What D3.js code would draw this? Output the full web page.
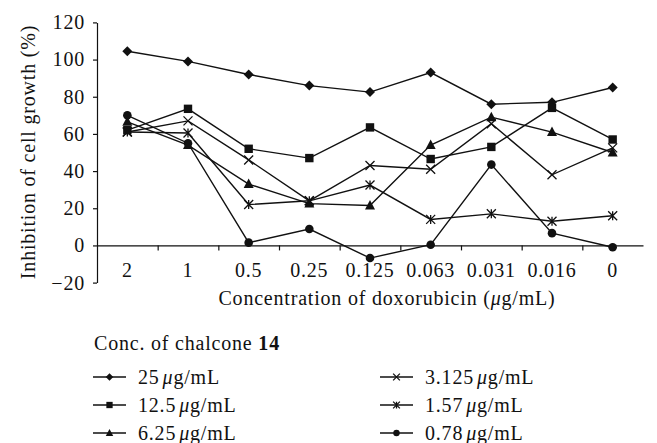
<!DOCTYPE html>
<html>
<head>
<meta charset="utf-8">
<script src="https://cdn.jsdelivr.net/npm/d3@7"></script>
<style>
  body { margin: 0; background: #fff; }
  text { font-family: "Liberation Serif", "DejaVu Serif", serif; fill: #111; letter-spacing: 0.8px; }
</style>
</head>
<body>
<div class="chart"></div>
<script>
// concentrations of doxorubicin (x categories)
const categories = ["2", "1", "0.5", "0.25", "0.125", "0.063", "0.031", "0.016", "0"];

// inhibition (%) per chalcone 14 concentration
const s25 = [104.5, 99, 92, 86, 82.5, 93, 76, 77, 85];
const s12_5 = [62, 73.5, 52, 47, 63.5, 46.5, 53, 74, 57];
const s6_25 = [66.5, 54, 33, 22.5, 21.5, 54, 69, 61, 50];
const s3_125 = [61, 67, 46, 24, 43, 41, 65.5, 38, 52.5];
const s1_57 = [61, 60.5, 22, 24, 32.5, 14, 17, 13, 16];
const s0_78 = [70, 55, 1.5, 8.8, -6.8, 0.4, 43.5, 6.6, -1];

const seriesNames = ["25", "12.5", "6.25", "3.125", "1.57", "0.78"];
const seriesValues = [s25, s12_5, s6_25, s3_125, s1_57, s0_78];
const markers = ["diamond", "square", "triangle", "cross", "asterisk", "circle"];

const yTicks = [-20, 0, 20, 40, 60, 80, 100, 120];

const width = 657, height = 443;
const mLeft = 97, mRight = 643, mTop = 22.4, mBottom = 282.6;
const fs = 20;

const svg = d3.select(".chart").append("svg")
  .attr("width", width).attr("height", height)
  .attr("viewBox", [0, 0, width, height]);

const x = d3.scaleBand().domain(categories).range([mLeft, mRight]);
const xi = d3.scaleLinear().domain([0, categories.length]).range([mLeft, mRight]);
const y = d3.scaleLinear().domain([-20, 120]).range([mBottom, mTop]);

// y axis
const gy = svg.append("g").attr("transform", `translate(${mLeft},0)`)
  .call(d3.axisLeft(y).tickValues(yTicks).tickSize(4).tickSizeOuter(0)
    .tickFormat(d => d < 0 ? "\u221220" : d));
gy.select(".domain").attr("stroke", "#111").attr("stroke-width", 1.2);
gy.selectAll(".tick line").attr("stroke", "#111").attr("stroke-width", 1.2);
gy.selectAll(".tick text").attr("font-size", fs).attr("x", -12).attr("fill", "#111");

// x axis along zero with ticks between categories
const gx = svg.append("g").attr("transform", `translate(0,${y(0)})`)
  .call(d3.axisBottom(xi).tickValues(d3.range(1, categories.length)).tickSize(5).tickSizeOuter(0).tickFormat(""));
gx.select(".domain").attr("stroke", "#111").attr("stroke-width", 1.2);
gx.selectAll(".tick line").attr("stroke", "#111").attr("stroke-width", 1.2);

svg.append("g").selectAll("text").data(categories).join("text")
  .attr("x", d => x(d) + x.bandwidth() / 2)
  .attr("y", 277)
  .attr("text-anchor", "middle")
  .attr("font-size", fs)
  .text(d => d);

// axis titles
svg.append("text")
  .attr("transform", `translate(35,152) rotate(-90)`)
  .attr("text-anchor", "middle")
  .attr("font-size", fs)
  .text("Inhibition of cell growth (%)");

const xt = svg.append("text")
  .attr("x", 387).attr("y", 305)
  .attr("text-anchor", "middle")
  .attr("font-size", fs);
xt.append("tspan").text("Concentration of doxorubicin (");
xt.append("tspan").attr("font-style", "italic").text("μ");
xt.append("tspan").text("g/mL)");

function drawMarker(g, type, cx, cy, k) {
  const s = k || 1;
  if (type === "diamond") {
    g.append("path").attr("d", `M${cx},${cy - 5 * s}L${cx + 5 * s},${cy}L${cx},${cy + 5 * s}L${cx - 5 * s},${cy}Z`).attr("fill", "#111");
  } else if (type === "square") {
    g.append("rect").attr("x", cx - 4.2 * s).attr("y", cy - 4.2 * s).attr("width", 8.4 * s).attr("height", 8.4 * s).attr("fill", "#111");
  } else if (type === "triangle") {
    g.append("path").attr("d", `M${cx},${cy - 5.5 * s}L${cx + 5 * s},${cy + 4 * s}L${cx - 5 * s},${cy + 4 * s}Z`).attr("fill", "#111");
  } else if (type === "cross") {
    const r = 4.5 * s;
    g.append("path").attr("d", `M${cx - r},${cy - r}L${cx + r},${cy + r}M${cx - r},${cy + r}L${cx + r},${cy - r}`)
      .attr("stroke", "#111").attr("stroke-width", 1.3);
  } else if (type === "asterisk") {
    const r = 4.5 * s;
    g.append("path").attr("d", `M${cx - r},${cy - r}L${cx + r},${cy + r}M${cx - r},${cy + r}L${cx + r},${cy - r}M${cx},${cy - r}L${cx},${cy + r}`)
      .attr("stroke", "#111").attr("stroke-width", 1.3);
  } else if (type === "circle") {
    g.append("circle").attr("cx", cx).attr("cy", cy).attr("r", 4.3 * s).attr("fill", "#111");
  }
}

const line = d3.line()
  .x((d, i) => x(categories[i]) + x.bandwidth() / 2)
  .y(d => y(d));

seriesValues.forEach((vals, k) => {
  const g = svg.append("g");
  g.append("path").datum(vals).attr("d", line)
    .attr("fill", "none").attr("stroke", "#111").attr("stroke-width", 1.4);
  vals.forEach((v, i) => drawMarker(g, markers[k], x(categories[i]) + x.bandwidth() / 2, y(v)));
});

// legend
const lt = svg.append("text").attr("x", 94).attr("y", 350).attr("font-size", fs);
lt.append("tspan").text("Conc. of chalcone ");
lt.append("tspan").attr("font-weight", "bold").text("14");

seriesNames.forEach((name, k) => {
  const col = Math.floor(k / 3), row = k % 3;
  const lx = col === 0 ? 93 : 380;
  const ly = 377 + row * 28;
  const g = svg.append("g");
  g.append("line").attr("x1", lx).attr("x2", lx + 33).attr("y1", ly).attr("y2", ly)
    .attr("stroke", "#111").attr("stroke-width", 1.4);
  drawMarker(g, markers[k], lx + 16.5, ly, 0.75);
  const t = g.append("text").attr("x", lx + 45).attr("y", ly + 7).attr("font-size", fs);
  t.append("tspan").text(name);
  t.append("tspan").attr("dx", 3).attr("font-style", "italic").text("μ");
  t.append("tspan").text("g/mL");
});
</script>
</body>
</html>
